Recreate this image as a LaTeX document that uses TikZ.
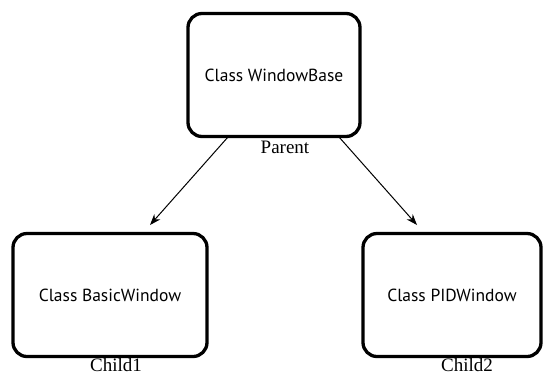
\documentclass[tikz,border=0pt]{standalone}
\usepackage{fontspec}
\setmainfont{Liberation Serif}
\newfontfamily\boxfont{PT Sans}
\usetikzlibrary{arrows.meta}
\begin{document}
\begin{tikzpicture}[x=1pt,y=-1pt,
  classbox/.style={draw, line width=3.3pt, rounded corners=14pt, inner sep=0pt, font=\boxfont\fontsize{17.5}{20}\selectfont},
  lbl/.style={inner sep=0pt, font=\fontsize{19}{21}\selectfont},
  inherit/.style={-{Stealth[length=11pt,width=8pt]}, line width=1pt}]
\useasboundingbox (0,0) rectangle (545,376);
\node[classbox, minimum width=172pt, minimum height=123pt] (base) at (274,75) {Class WindowBase};
\node[classbox, minimum width=194pt, minimum height=123pt] (basic) at (110,295) {Class BasicWindow};
\node[classbox, minimum width=178pt, minimum height=123pt] (pid) at (452,295) {Class PIDWindow};
\node[lbl] (parent) at (285,147) {Parent};
\node[lbl] (child1) at (116,365) {Child1};
\node[lbl] (child2) at (467,365) {Child2};
\coordinate (s1) at (228,137);
\coordinate (e1) at (150,225);
\coordinate (s2) at (339,137);
\coordinate (e2) at (417,225);
\draw[inherit] (s1) -- (e1);
\draw[inherit] (s2) -- (e2);
\end{tikzpicture}
\end{document}
